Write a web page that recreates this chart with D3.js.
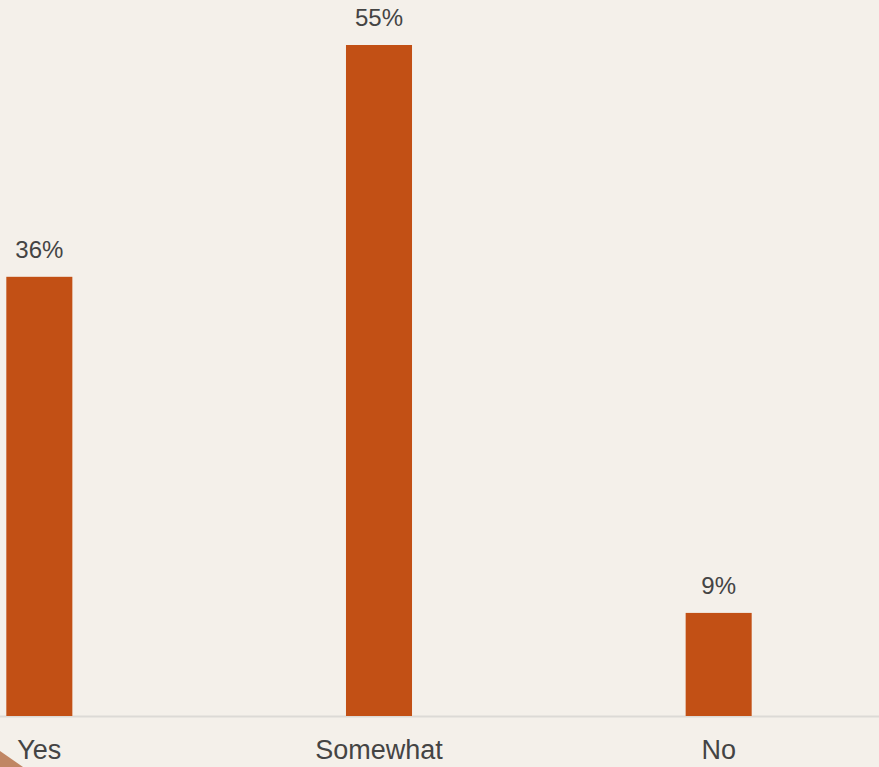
<!DOCTYPE html>
<html><head><meta charset="utf-8">
<script src="https://cdn.jsdelivr.net/npm/d3@7"></script>
<style>
html,body{margin:0;padding:0;background:#F4F0EA;}
svg{display:block;}
</style></head>
<body>
<svg id="chart" width="879" height="767"></svg>
<script>
const categories = ["Yes", "Somewhat", "No"];
const values = [36, 55, 8.45];
const valueLabels = ["36%", "55%", "9%"];

const W = 879, H = 767;
const svg = d3.select("#chart");
svg.append("rect").attr("width", W).attr("height", H).attr("fill", "#F4F0EA");

const x = d3.scaleBand().domain(categories)
  .range([-130.5, 888.5]).paddingInner(0.8056).paddingOuter(0.4028).align(0.5);
const y = d3.scaleLinear().domain([0, 55]).range([716, 45]);

// baseline
svg.append("line").attr("x1", 0).attr("x2", W).attr("y1", 716.5).attr("y2", 716.5)
  .attr("stroke", "#DCDAD6").attr("stroke-width", 2);

svg.selectAll("rect.bar").data(categories).join("rect").attr("class", "bar")
  .attr("x", d => x(d)).attr("width", x.bandwidth())
  .attr("y", (d, i) => y(values[i])).attr("height", (d, i) => y(0) - y(values[i]))
  .attr("fill", "#C25015");

const font = "'Liberation Sans', Arial, sans-serif";
svg.selectAll("text.val").data(categories).join("text").attr("class", "val")
  .attr("x", d => x(d) + x.bandwidth() / 2)
  .attr("y", (d, i) => y(values[i]) - 19)
  .attr("text-anchor", "middle")
  .attr("font-family", font).attr("font-size", 24)
  .attr("fill", "#444").text((d, i) => valueLabels[i]);

svg.selectAll("text.cat").data(categories).join("text").attr("class", "cat")
  .attr("x", d => x(d) + x.bandwidth() / 2)
  .attr("y", 759)
  .attr("text-anchor", "middle")
  .attr("font-family", font).attr("font-size", 27)
  .attr("fill", "#444").text(d => d);

// decorative corner
svg.append("polygon").attr("points", "0,751 23,767 0,767").attr("fill", "#C08664");
</script>
</body></html>
